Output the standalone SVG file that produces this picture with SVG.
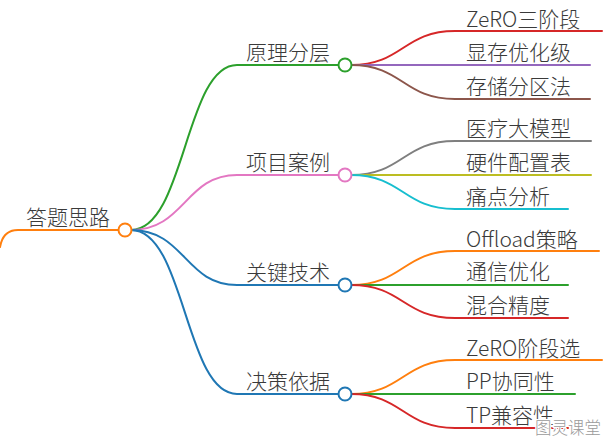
<svg xmlns="http://www.w3.org/2000/svg" width="610" height="445" viewBox="0 0 610 445">
<style>
.l{fill:none;stroke-width:2;stroke-linecap:round}
text{font-family:"Noto Sans CJK SC","Noto Sans",sans-serif;font-size:21px;font-weight:300;fill:#3a3a3a}
.c{fill:#fff;stroke-width:2}
.wm{font-size:16.5px;fill:#9a9a9a;stroke:#fff;stroke-width:2.5;paint-order:stroke}
</style>
<rect width="610" height="445" fill="#fff"/>
<g id="connectors">
<path class="l" stroke="#ff7f0e" d="M0,247 Q3,230 18,230 H119"/>
<path class="l" stroke="#2ca02c" d="M131,230 C185,230 185,65 237,65 H339"/>
<path class="l" stroke="#e377c2" d="M131,230 C185,230 185,175 237,175 H339"/>
<path class="l" stroke="#1f77b4" d="M131,230 C185,230 185,285 237,285 H339"/>
<path class="l" stroke="#1f77b4" d="M131,230 C185,230 185,394 237,394 H339"/>
<path class="l" stroke="#d62728" d="M351,65 C403,65 403,31 455,31 H602"/>
<path class="l" stroke="#9467bd" d="M351,65 H590"/>
<path class="l" stroke="#8c564b" d="M351,65 C403,65 403,99 455,99 H590"/>
<path class="l" stroke="#7f7f7f" d="M351,175 C403,175 403,141 455,141 H591"/>
<path class="l" stroke="#bcbd22" d="M351,175 H591"/>
<path class="l" stroke="#17becf" d="M351,175 C403,175 403,209 455,209 H568"/>
<path class="l" stroke="#ff7f0e" d="M351,285 C403,285 403,251 455,251 H599"/>
<path class="l" stroke="#2ca02c" d="M351,285 H568"/>
<path class="l" stroke="#d62728" d="M351,285 C403,285 403,318 455,318 H568"/>
<path class="l" stroke="#ff7f0e" d="M351,394 C403,394 403,360 455,360 H602"/>
<path class="l" stroke="#2ca02c" d="M351,394 H575"/>
<path class="l" stroke="#d62728" d="M351,394 C403,394 403,428 455,428 H568"/>
</g>
<g id="root"><text x="26" y="225">答题思路</text><circle class="c" stroke="#ff7f0e" cx="125" cy="230" r="6.5"/></g>
<g id="n1"><text x="246" y="60">原理分层</text><circle class="c" stroke="#2ca02c" cx="345" cy="65" r="6.5"/></g>
<g id="n2"><text x="246" y="170">项目案例</text><circle class="c" stroke="#e377c2" cx="345" cy="175" r="6.5"/></g>
<g id="n3"><text x="246" y="280">关键技术</text><circle class="c" stroke="#1f77b4" cx="345" cy="285" r="6.5"/></g>
<g id="n4"><text x="246" y="389">决策依据</text><circle class="c" stroke="#1f77b4" cx="345" cy="394" r="6.5"/></g>
<g id="leaf1"><text x="466" y="26.5">ZeRO三阶段</text></g>
<g id="leaf2"><text x="466" y="60">显存优化级</text></g>
<g id="leaf3"><text x="466" y="94">存储分区法</text></g>
<g id="leaf4"><text x="466" y="136">医疗大模型</text></g>
<g id="leaf5"><text x="466" y="170">硬件配置表</text></g>
<g id="leaf6"><text x="466" y="204">痛点分析</text></g>
<g id="leaf7"><text x="466" y="246.5">Offload策略</text></g>
<g id="leaf8"><text x="466" y="279">通信优化</text></g>
<g id="leaf9"><text x="466" y="313">混合精度</text></g>
<g id="leaf10"><text x="466" y="355.5">ZeRO阶段选</text></g>
<g id="leaf11"><text x="466" y="388.5">PP协同性</text></g>
<g id="leaf12"><text x="466" y="423">TP兼容性</text></g>
<text class="wm" x="535" y="434">图灵课堂</text>
</svg>
